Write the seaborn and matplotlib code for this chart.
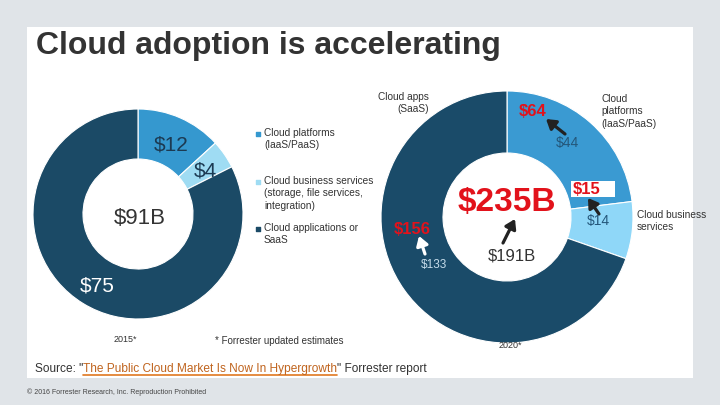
import matplotlib
matplotlib.use("Agg")
import matplotlib.pyplot as plt
import seaborn as sns
from matplotlib.patches import Rectangle

sns.set_theme(style="white")
plt.rcParams['font.family'] = ['Liberation Sans', 'DejaVu Sans']

# ---- data ----
segments = ["Cloud platforms (IaaS/PaaS)", "Cloud business services", "Cloud applications or SaaS"]
values_2015 = [12, 4, 75]
values_2020_old = [44, 14, 133]
values_2020_new = [64, 15, 156]
total_2015 = "$91B"
total_2020_old = "$191B"
total_2020_new = "$235B"
year_labels = ["2015*", "2020*"]

colors_left = ["#3598cf", "#9fdcf3", "#1b4a66"]
colors_right = ["#3a9ad2", "#8fd7f8", "#1a4b69"]

W, H = 720, 405
fig = plt.figure(figsize=(7.2, 4.05), dpi=100, facecolor="#e0e4e8")
ax = fig.add_axes([0, 0, 1, 1])
ax.set_facecolor("#e0e4e8")

def Y(y):
    return H - y

# white panel
ax.add_patch(Rectangle((27, Y(378)), 666, 351, facecolor="white", edgecolor="none", zorder=0))

# donuts
ax.pie(values_2015, colors=colors_left, startangle=90, counterclock=False,
       radius=105, center=(138, Y(214)),
       wedgeprops=dict(width=50, edgecolor="white", linewidth=0.8), frame=False)
ax.pie(values_2020_old, colors=colors_right, startangle=90, counterclock=False,
       radius=126, center=(507, Y(217)),
       wedgeprops=dict(width=62, edgecolor="white", linewidth=0.8), frame=False)

ax.set_xlim(0, W)
ax.set_ylim(0, H)
ax.set_aspect("equal")
ax.axis("off")

txt = "#333333"
red = "#e2121b"

# title
ax.text(36, Y(46), "Cloud adoption is accelerating", fontsize=23, fontweight="bold",
        color=txt, va="center", ha="left")

# left donut labels
ax.text(171, Y(145), f"${values_2015[0]}", fontsize=15, color="#1c3a52", ha="center", va="center")
ax.text(205, Y(171), f"${values_2015[1]}", fontsize=15, color="#1c3a52", ha="center", va="center")
ax.text(97, Y(286), f"${values_2015[2]}", fontsize=15, color="white", ha="center", va="center")
ax.text(140, Y(219), total_2015, fontsize=16, color=txt, ha="center", va="center")
ax.text(125, Y(340), year_labels[0], fontsize=6.5, color=txt, ha="center", va="center")
ax.text(215, Y(341), "* Forrester updated estimates", fontsize=7, color=txt, ha="left", va="center")

# legend
leg_items = [("Cloud platforms\n(IaaS/PaaS)", 134, colors_left[0]),
             ("Cloud business services\n(storage, file services,\nintegration)", 182, colors_left[1]),
             ("Cloud applications or\nSaaS", 229, colors_left[2])]
for label, y, c in leg_items:
    ax.scatter([258], [Y(y)], marker="s", s=10, color=c, zorder=3)
    ax.text(264, Y(y - 6), label, fontsize=7.3, color=txt, ha="left", va="top", linespacing=1.3)

# right donut labels
ax.text(429, Y(92), "Cloud apps\n(SaaS)", fontsize=7.3, color=txt, ha="right", va="top", linespacing=1.3)
ax.text(601, Y(94), "Cloud\nplatforms\n(IaaS/PaaS)", fontsize=7.3, color=txt, ha="left", va="top", linespacing=1.3)
ax.text(637, Y(210), "Cloud business\nservices", fontsize=7.3, color=txt, ha="left", va="top", linespacing=1.3)

ax.add_patch(Rectangle((571, Y(197)), 44, 16, facecolor="white", edgecolor="none", zorder=3))
ax.text(533, Y(112), f"${values_2020_new[0]}", fontsize=12, color=red, fontweight="bold", ha="center", va="center")
ax.text(567, Y(143), f"${values_2020_old[0]}", fontsize=10, color="#24577a", ha="center", va="center")
ax.text(587, Y(189), f"${values_2020_new[1]}", fontsize=12, color=red, fontweight="bold", ha="center", va="center",
        zorder=4)
ax.text(598, Y(221), f"${values_2020_old[1]}", fontsize=10, color="#24577a", ha="center", va="center")
ax.text(412, Y(229), f"${values_2020_new[2]}", fontsize=12, color=red, fontweight="bold", ha="center", va="center")
ax.text(434, Y(265), f"${values_2020_old[2]}", fontsize=8.5, color="#c6dcea", ha="center", va="center")
ax.text(507, Y(202), total_2020_new, fontsize=24, color=red, fontweight="bold", ha="center", va="center")
ax.text(512, Y(256), total_2020_old, fontsize=12, color=txt, ha="center", va="center")
ax.text(510, Y(346), year_labels[1], fontsize=6.5, color=txt, ha="center", va="center")

# arrows
style = "-|>,head_length=0.55,head_width=0.35"
arrow_dark = dict(arrowstyle=style, color="#222222", lw=2.3, mutation_scale=10, shrinkA=0, shrinkB=0)
arrow_white = dict(arrowstyle=style, color="white", lw=2.3, mutation_scale=10, shrinkA=0, shrinkB=0)
ax.annotate("", xy=(546, Y(119)), xytext=(565, Y(134)), arrowprops=arrow_dark, zorder=5)
ax.annotate("", xy=(588, Y(198)), xytext=(599, Y(214)), arrowprops=arrow_dark, zorder=5)
ax.annotate("", xy=(515, Y(219)), xytext=(503, Y(243)), arrowprops=arrow_dark, zorder=5)
ax.annotate("", xy=(419, Y(236)), xytext=(425, Y(254)), arrowprops=arrow_white, zorder=5)

# source line
fig.canvas.draw()
r = fig.canvas.get_renderer()
inv = ax.transData.inverted()
x = 35
parts = [('Source: "', txt, False), ("The Public Cloud Market Is Now In Hypergrowth", "#c0641e", True),
         ('" Forrester report', txt, False)]
for s, c, ul in parts:
    t = ax.text(x, Y(369), s, fontsize=8.6, color=c, ha="left", va="center")
    bb = t.get_window_extent(renderer=r)
    (x0, y0), (x1, y1) = inv.transform([[bb.x0, bb.y0], [bb.x1, bb.y1]])
    if ul:
        ax.plot([x0, x1], [Y(375), Y(375)], color="#e07820", lw=1.2)
    x = x1

ax.text(27, Y(392), "© 2016 Forrester Research, Inc. Reproduction Prohibited", fontsize=5, color="#444444",
        ha="left", va="center")

fig.savefig("out.png", dpi=100, facecolor=fig.get_facecolor())
